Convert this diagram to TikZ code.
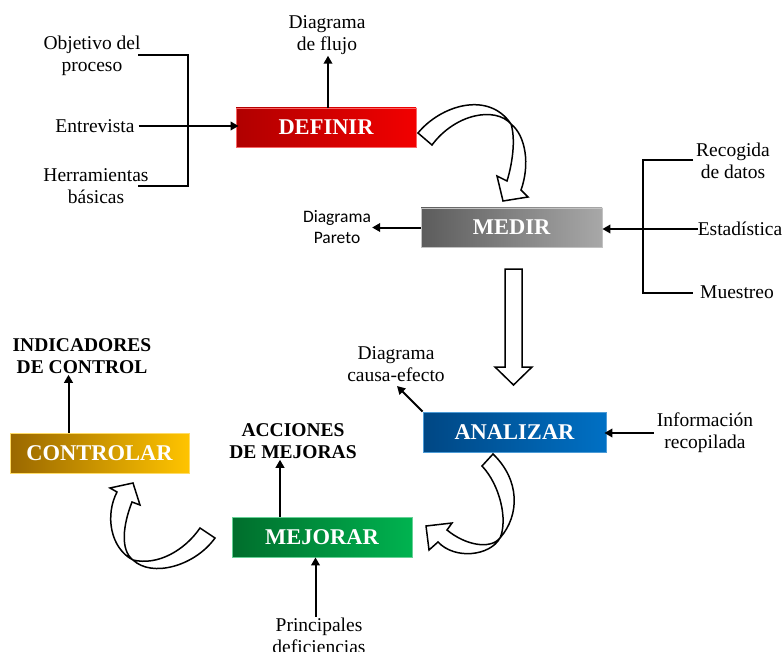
\documentclass[tikz,border=0pt]{standalone}
\usepackage{fontspec}
\setmainfont{Liberation Serif}
\newfontfamily\carlitofont{Carlito}
\usetikzlibrary{arrows.meta}
\definecolor{defdark}{HTML}{B00000}
\definecolor{defbright}{HTML}{F20000}
\definecolor{meddark}{HTML}{5C5C5C}
\definecolor{medbright}{HTML}{A8A8A8}
\definecolor{anadark}{HTML}{004784}
\definecolor{anabright}{HTML}{0070C4}
\definecolor{condark}{HTML}{9A6800}
\definecolor{conbright}{HTML}{FFC400}
\definecolor{mejdark}{HTML}{006E2C}
\definecolor{mejbright}{HTML}{00B350}
\begin{document}
\begin{tikzpicture}[x=1pt,y=-1pt,
  lbl/.style={font=\fontsize{19.5}{22}\selectfont, align=center, inner sep=1pt},
  sanslbl/.style={font=\carlitofont\fontsize{17.5}{21}\selectfont, align=center, inner sep=1pt},
  headlbl/.style={font=\fontsize{19.5}{22}\selectfont\bfseries, align=center, inner sep=1pt},
  phase/.style={minimum width=180pt, minimum height=40pt, inner sep=0pt,
    font=\fontsize{22.5}{26}\selectfont\bfseries, text=white, line width=0.8pt},
  conn/.style={line width=2pt, line join=miter},
  arr/.style={conn, -{Triangle[length=8pt,width=8.5pt]}},
  blockarrow/.style={draw=black, fill=white, line width=1.5pt, line join=miter}
]
\useasboundingbox (0,0) rectangle (783,652);

% ---------- phase boxes ----------
\node[phase, minimum height=39pt, left color=defdark, right color=defbright, draw=defbright!60!white] (definir) at (326,127.5) {DEFINIR};
\node[phase, minimum width=181pt, minimum height=39pt, left color=meddark, right color=medbright, draw=medbright!70!white] (medir) at (511.5,227.5) {MEDIR};
\node[phase, minimum width=183pt, left color=anadark, right color=anabright, draw=anabright!70!white] (analizar) at (514.5,432) {ANALIZAR};
\node[phase, minimum width=179pt, left color=condark, right color=conbright, draw=conbright!60!white] (controlar) at (99.5,453) {CONTROLAR};
\node[phase, left color=mejdark, right color=mejbright, draw=mejbright!60!white] (mejorar) at (322,537) {MEJORAR};

% ---------- labels ----------
\node[lbl] (objetivo) at (92,56) {Objetivo del\\proceso};
\node[lbl] (entrevista) at (95,126) {Entrevista};
\node[lbl] (herramientas) at (96,186) {Herramientas\\básicas};
\node[lbl] (flujo) at (327,35) {Diagrama\\de flujo};
\node[sanslbl] (pareto) at (337,227) {Diagrama\\Pareto};
\node[lbl] (recogida) at (733,161) {Recogida\\de datos};
\node[lbl, inner sep=0pt] (estadistica) at (740,229) {Estadística};
\node[lbl] (muestreo) at (737,292) {Muestreo};
\node[lbl] (causa) at (396,364) {Diagrama\\causa-efecto};
\node[lbl] (informacion) at (705,433) {Información\\recopilada};
\node[headlbl] (indicadores) at (82,356) {INDICADORES\\DE CONTROL};
\node[headlbl] (acciones) at (293,441) {ACCIONES\\DE MEJORAS};
\node[lbl] (principales) at (319,636) {Principales\\deficiencias};

% ---------- DEFINIR inputs / outputs ----------
\coordinate (lb1) at (138,55);
\coordinate (lb2) at (188,55);
\coordinate (lb3) at (188,186.5);
\coordinate (lb4) at (138,186.5);
\draw[conn] (lb1) -- (lb2) -- (lb3) -- (lb4);
\draw[arr] ([xshift=3pt]entrevista.east) -- ([xshift=3pt]entrevista.east -| definir.west);
\draw[arr] ([xshift=2pt]definir.north) -- ([xshift=2pt]definir.north |- flujo.south);

% ---------- MEDIR inputs / outputs ----------
\draw[arr] (medir.west) -- (medir.west -| pareto.east);
\coordinate (rb1) at (693,160);
\coordinate (rb2) at (643,160);
\coordinate (rb3) at (643,292.5);
\coordinate (rb4) at (693,292.5);
\draw[conn] (rb1) -- (rb2) -- (rb3) -- (rb4);
\draw[arr] (estadistica.west) -- (estadistica.west -| medir.east);

% ---------- ANALIZAR inputs / outputs ----------
\coordinate (causatip) at (397,386);
\draw[arr] (analizar.north west) -- (causatip);
\draw[arr] ([xshift=-2pt]informacion.west) -- ([xshift=-2pt]informacion.west -| analizar.east);

% ---------- MEJORAR inputs / outputs ----------
\draw[arr] ([xshift=-42pt]mejorar.north) -- ([xshift=-42pt]mejorar.north |- acciones.south);
\draw[arr] ([xshift=-3.5pt]principales.north) -- ([xshift=-3.5pt]principales.north |- mejorar.south);

% ---------- CONTROLAR output ----------
\draw[arr] ([xshift=-31pt]controlar.north) -- ([xshift=-31pt]controlar.north |- indicadores.south);

% ---------- block arrows ----------
% DEFINIR -> MEDIR (twisted ribbon)
\draw[blockarrow] (418,133)
  .. controls (440,106) and (488,90) .. (511,124)
  .. controls (516,140) and (512,165) .. (507,181)
  -- (497,176) -- (503,201) -- (528,197) -- (521,190)
  .. controls (530,165) and (526,136) .. (511,124)
  .. controls (495,106) and (455,114) .. (432,145)
  -- cycle;
% MEDIR -> ANALIZAR
\draw[blockarrow] (505,269) -- (522,269) -- (522,367) -- (532,367) -- (513.5,385) -- (495,367) -- (505,367) -- cycle;
% ANALIZAR -> MEJORAR (twisted ribbon)
\draw[blockarrow] (482,466)
  .. controls (500,485) and (508,520) .. (500,538)
  .. controls (490,556) and (455,560) .. (438,542)
  -- (429,550) -- (426,526) -- (452,523) -- (447,530)
  .. controls (465,545) and (490,550) .. (500,538)
  .. controls (520,515) and (520,480) .. (493,454)
  -- cycle;
% MEJORAR -> CONTROLAR (twisted ribbon)
\draw[blockarrow] (200,528)
  .. controls (185,550) and (158,566) .. (133,560)
  .. controls (110,548) and (105,515) .. (117,492)
  -- (110,488) -- (133,483) -- (140,505) -- (132,502)
  .. controls (123,525) and (120,550) .. (133,560)
  .. controls (152,578) and (195,566) .. (215,538)
  -- cycle;
\end{tikzpicture}
\end{document}
